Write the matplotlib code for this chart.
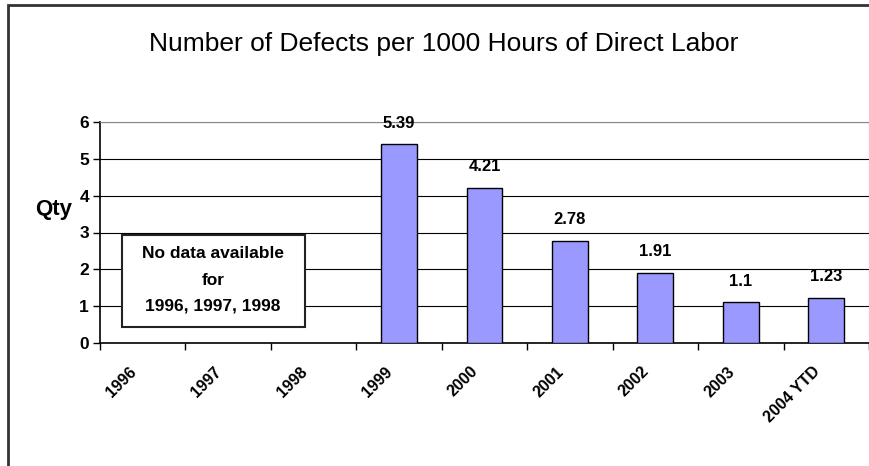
import matplotlib
matplotlib.use("Agg")
import matplotlib.pyplot as plt
from matplotlib.patches import Rectangle
from matplotlib.transforms import ScaledTranslation
import numpy as np

plt.rcParams['font.family'] = ['Liberation Sans', 'DejaVu Sans']

years = ["1996", "1997", "1998", "1999", "2000", "2001", "2002", "2003", "2004 YTD"]
defects = [None, None, None, 5.39, 4.21, 2.78, 1.91, 1.1, 1.23]
note = "No data available\nfor\n1996, 1997, 1998"

fig = plt.figure(figsize=(8.7, 4.66), dpi=100)
ax = fig.add_axes([100/870, 1 - 343/466, 769/870, 221/466])

x = np.arange(len(years))
vals = np.array([np.nan if v is None else v for v in defects])
ax.bar(x, vals, width=0.42, color="#9999FF", edgecolor="black", linewidth=1, zorder=3)

for xi, v in zip(x, defects):
    if v is not None:
        ax.text(xi, v + 0.58, f"{v:g}", ha="center", va="center",
                fontsize=12, fontweight="bold")

ax.set_xlim(-0.5, len(years) - 0.5)
ax.set_ylim(0, 6)
ax.set_yticks(range(0, 7))
ax.yaxis.grid(True, color="black", linewidth=0.8, zorder=0)
ax.set_axisbelow(True)

ax.set_xticks(x)
ax.set_xticks(np.arange(-0.5, len(years)), minor=True)
ax.tick_params(axis="x", which="major", length=0, pad=15)
ax.tick_params(axis="x", which="minor", length=5, width=1, direction="out")
ax.tick_params(axis="y", length=5, width=1, labelsize=12.5, pad=3)
for lab in ax.get_yticklabels():
    lab.set_fontweight("bold")

ax.set_xticklabels(years, rotation=45, ha="right", va="top", rotation_mode="anchor",
                   fontsize=11.5, fontweight="bold")
shift = ScaledTranslation(-14/100, 0, fig.dpi_scale_trans)
for lab in ax.get_xticklabels():
    lab.set_transform(lab.get_transform() + shift)

for s in ["top", "right"]:
    ax.spines[s].set_color("#888888")
ax.spines["left"].set_linewidth(1.2)
ax.spines["bottom"].set_linewidth(1.2)

ax.text(-0.06, 0.579, "Qty", transform=ax.transAxes, ha="center", va="baseline",
        fontsize=16, fontweight="bold")

# note box for the missing years
ax.add_patch(Rectangle((-0.243, 0.434), 2.142, 2.498, facecolor="white",
                       edgecolor="#222222", linewidth=1.5, zorder=5))
ax.text(0.823, 1.71, note, ha="center", va="center", fontsize=12.5,
        fontweight="bold", linespacing=1.95, zorder=6)

fig.text(444/870, 1 - 51/466, "Number of Defects per 1000 Hours of Direct Labor",
         ha="center", va="baseline", fontsize=19)

fig.patches.append(Rectangle((8/870, -0.1), 1.0, 1 - 5/466 + 0.1,
                             transform=fig.transFigure, fill=False,
                             edgecolor="#333333", linewidth=2))

fig.savefig("out.png", dpi=100)
